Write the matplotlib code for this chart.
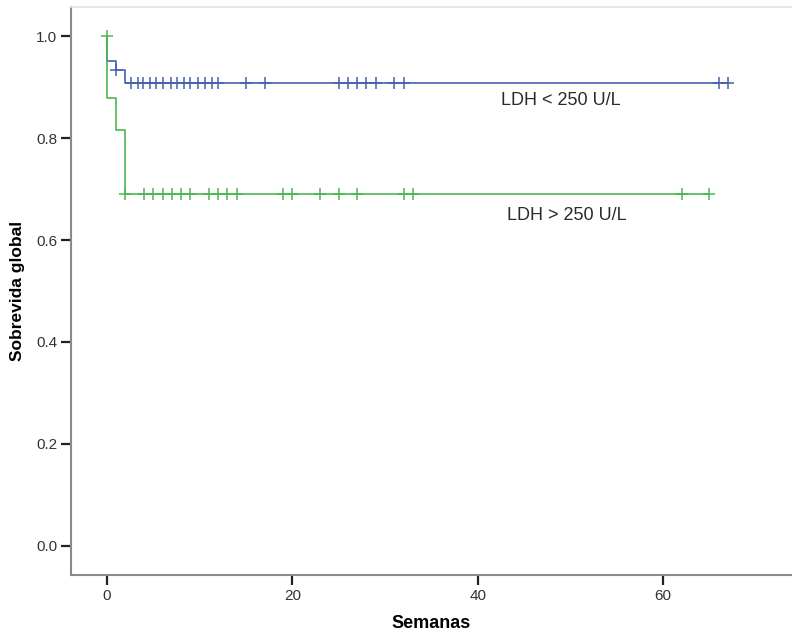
import numpy as np
import matplotlib
matplotlib.use('Agg')
import matplotlib.pyplot as plt

# Kaplan-Meier steps (weeks, survival)
low_times = [0, 0, 1, 2, 67]
low_surv = [1.0, 0.951, 0.933, 0.908, 0.908]
low_censor = [1, 2.6, 3.3, 3.9, 4.6, 5.3, 6.0, 6.9, 7.6, 8.3, 9.0, 9.8, 10.6, 11.3, 12.0,
              15, 17, 25, 26, 27, 28, 29, 31, 32, 66, 67]

high_times = [0, 0, 1, 2, 65]
high_surv = [1.0, 0.878, 0.816, 0.690, 0.690]
high_censor = [0, 2, 4, 5, 6, 7, 8, 9, 11, 12, 13, 14, 19, 20, 23, 25, 27, 32, 33, 62, 65]

low_label = 'LDH < 250 U/L'
high_label = 'LDH > 250 U/L'

blue = '#4561ad'
green = '#4db552'


def surv_at(times, surv, t):
    # value of the step function at time t (start value for t = 0)
    if t <= times[0]:
        return surv[0]
    idx = np.searchsorted(times, t, side='right') - 1
    return surv[idx]


fig = plt.figure(figsize=(7.92, 6.34), dpi=100)
ax = fig.add_axes([0.0896, 0.093, 0.9104, 0.896])

for times, surv, cens, col in [(low_times, low_surv, low_censor, blue),
                                (high_times, high_surv, high_censor, green)]:
    ax.step(times, surv, where='post', color=col, lw=1.2)
    cy = [surv_at(times, surv, t) for t in cens]
    ax.plot(cens, cy, ls='none', marker='+', ms=8, mew=1.1, color=col)

ax.text(42.5, 0.873, low_label, fontsize=13, family='Liberation Sans', color='#2a2a2a', va='center')
ax.text(43.2, 0.648, high_label, fontsize=13, family='Liberation Sans', color='#2a2a2a', va='center')

ax.set_xlim(-3.88, 73.9)
ax.set_ylim(-0.057, 1.057)
ax.set_xticks([0, 20, 40, 60])
ax.set_yticks([0.0, 0.2, 0.4, 0.6, 0.8, 1.0])
ax.set_yticklabels(['0.0', '0.2', '0.4', '0.6', '0.8', '1.0'])

for lab in ax.get_xticklabels() + ax.get_yticklabels():
    lab.set_fontfamily(['Liberation Sans Narrow', 'Liberation Sans'])
    lab.set_fontsize(11)
    lab.set_color('#333333')

ax.tick_params(direction='out', length=7, width=1.6, color='#222222', pad=3)
ax.spines['right'].set_visible(False)
ax.spines['left'].set_color('#8a8a8a')
ax.spines['bottom'].set_color('#8a8a8a')
ax.spines['left'].set_linewidth(1.5)
ax.spines['bottom'].set_linewidth(1.5)
ax.spines['top'].set_color('#e2e2e2')
ax.spines['top'].set_linewidth(1.2)

ax.set_xlabel('Semanas', fontsize=13, fontweight='bold',
              family=['Liberation Sans Narrow', 'Liberation Sans'], labelpad=9)
ax.set_ylabel('Sobrevida global', fontsize=12.5, fontweight='bold',
              family='Liberation Sans', labelpad=8)

fig.savefig('out.png', dpi=100)
